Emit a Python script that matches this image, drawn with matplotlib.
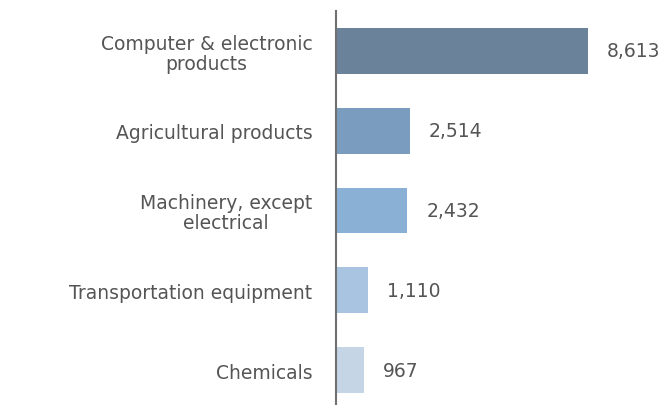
import numpy as np
from matplotlib import pyplot as plt

categories = ["Computer & electronic\nproducts", "Agricultural products",
              "Machinery, except\nelectrical", "Transportation equipment", "Chemicals"]
values = [8613, 2514, 2432, 1110, 967]
value_labels = ["8,613", "2,514", "2,432", "1,110", "967"]
colors = ["#6a839b", "#7a9dbf", "#8bb0d6", "#a8c4e0", "#c5d5e6"]

W, H = 671, 406
fig = plt.figure(figsize=(W / 100, H / 100), dpi=100)
ax = fig.add_axes([336 / W, 0, 335 / W, 394 / H])

y = np.arange(len(values))
ax.barh(y, values, height=0.575, color=colors)

ax.set_xlim(0, 335 / 252 * 8613)
ax.set_ylim(4.4375, -0.5)

# value labels just right of each bar
for yi, v, lab in zip(y, values, value_labels):
    ax.annotate(lab, (v, yi), xytext=(19, 0), textcoords="offset pixels",
                va="center", ha="left", fontsize=13.5, color="#555555")

ax.set_yticks(y)
ax.set_yticklabels(categories, fontsize=13.5, color="#555555",
                   multialignment="center", linespacing=1.05)
ax.tick_params(axis="y", length=0, pad=17)
ax.set_xticks([])

for s in ["top", "right", "bottom"]:
    ax.spines[s].set_visible(False)
ax.spines["left"].set_color("#707070")
ax.spines["left"].set_linewidth(1.5)

fig.savefig("out.png", dpi=100)
